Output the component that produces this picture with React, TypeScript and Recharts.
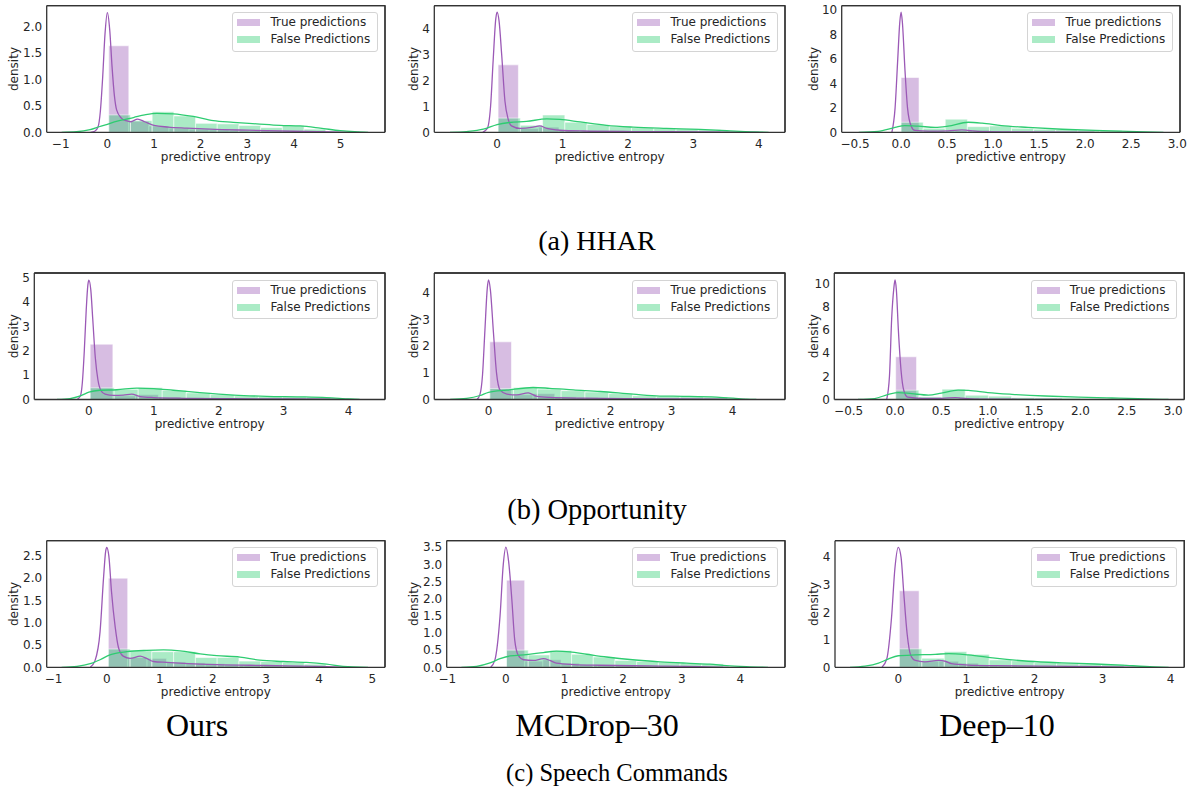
import React from 'react';
import { ComposedChart, Line, XAxis, YAxis, ReferenceArea, ReferenceLine, Label } from 'recharts';

type Pair = [number, number];
type Hist = { start: number; width: number; heights: number[] };

// ===================== DATA =====================
// (a) HHAR
const hharOursTrueKde: Pair[] = [[-0.36, 0], [-0.27, 0.02], [-0.2, 0.1], [-0.15, 0.4], [-0.1, 1.05], [-0.05, 1.87], [0, 2.27], [0.05, 1.95], [0.1, 1.25], [0.15, 0.7], [0.2, 0.42], [0.3, 0.27], [0.4, 0.22], [0.5, 0.2], [0.65, 0.25], [0.8, 0.2], [1.0, 0.13], [1.3, 0.1], [1.7, 0.08], [2.2, 0.06], [3.0, 0.04], [4.0, 0.02], [5.0, 0.005], [5.4, 0]];
const hharOursFalseKde: Pair[] = [[-0.98, 0], [-0.66, 0.01], [-0.37, 0.05], [-0.16, 0.11], [0, 0.15], [0.06, 0.17], [0.3, 0.23], [0.56, 0.28], [0.8, 0.33], [1.06, 0.36], [1.41, 0.35], [1.84, 0.3], [2.27, 0.22], [2.7, 0.19], [3.2, 0.16], [3.7, 0.13], [4.13, 0.12], [4.56, 0.08], [4.99, 0.03], [5.3, 0.01], [5.59, 0]];
const hharOursTrueHist: Hist = { start: 0.03, width: 0.43, heights: [1.64, 0.21, 0.12, 0.08, 0.06, 0.05, 0.04, 0.03, 0.03, 0.02, 0.02] };
const hharOursFalseHist: Hist = { start: 0.03, width: 0.465, heights: [0.33, 0.22, 0.39, 0.31, 0.17, 0.16, 0.13, 0.09, 0.13, 0.06] };

const hharMcTrueKde: Pair[] = [[-0.22, 0], [-0.15, 0.15], [-0.1, 1.0], [-0.06, 2.8], [-0.02, 4.4], [0, 4.65], [0.03, 4.3], [0.07, 3.0], [0.12, 1.2], [0.17, 0.5], [0.22, 0.25], [0.35, 0.15], [0.55, 0.2], [0.65, 0.25], [0.76, 0.15], [0.96, 0.08], [1.32, 0.05], [2.08, 0.03], [3.1, 0.02], [3.6, 0.01], [4.0, 0]];
const hharMcFalseKde: Pair[] = [[-0.72, 0], [-0.47, 0.03], [-0.21, 0.12], [0, 0.3], [0.19, 0.38], [0.45, 0.42], [0.76, 0.52], [0.96, 0.5], [1.27, 0.4], [1.67, 0.27], [2.08, 0.2], [2.59, 0.15], [3.1, 0.11], [3.51, 0.06], [3.87, 0.02], [4.15, 0]];
const hharMcTrueHist: Hist = { start: 0.015, width: 0.31, heights: [2.61, 0.15, 0.2, 0.08, 0.05, 0.04, 0.03, 0.03, 0.02, 0.02, 0.01] };
const hharMcFalseHist: Hist = { start: 0.015, width: 0.34, heights: [0.55, 0.27, 0.67, 0.39, 0.3, 0.22, 0.18, 0.15, 0.13, 0.1] };

const hharDeepTrueKde: Pair[] = [[-0.1, 0], [-0.065, 2], [-0.036, 6], [-0.014, 9], [0, 9.82], [0.014, 9], [0.043, 5], [0.07, 2], [0.11, 0.5], [0.15, 0.15], [0.3, 0.1], [0.51, 0.12], [0.66, 0.2], [0.73, 0.15], [0.88, 0.05], [1.2, 0.03], [1.75, 0.01], [2.1, 0]];
const hharDeepFalseKde: Pair[] = [[-0.46, 0], [-0.25, 0.08], [-0.065, 0.4], [0.04, 0.55], [0.19, 0.5], [0.37, 0.4], [0.51, 0.5], [0.73, 0.82], [0.88, 0.75], [1.09, 0.55], [1.38, 0.4], [1.75, 0.25], [2.11, 0.15], [2.47, 0.08], [2.65, 0.04], [2.85, 0]];
const hharDeepTrueHist: Hist = { start: 0.0, width: 0.195, heights: [4.48, 0.12, 0.1, 0.15, 0.18, 0.08, 0.04, 0.03, 0.02, 0.02, 0.01] };
const hharDeepFalseHist: Hist = { start: 0.0, width: 0.24, heights: [0.82, 0.33, 1.07, 0.46, 0.52, 0.33, 0.25, 0.22, 0.19, 0.16] };

// (b) Opportunity
const oppOursTrueKde: Pair[] = [[-0.18, 0], [-0.13, 0.15], [-0.1, 0.7], [-0.07, 2.0], [-0.04, 3.7], [-0.015, 4.7], [0, 4.9], [0.03, 4.5], [0.06, 3.3], [0.1, 1.7], [0.14, 0.8], [0.19, 0.35], [0.25, 0.22], [0.38, 0.17], [0.53, 0.18], [0.66, 0.22], [0.79, 0.12], [1.0, 0.08], [1.46, 0.05], [2.23, 0.03], [3.0, 0.02], [3.76, 0.01], [4.0, 0]];
const oppOursFalseKde: Pair[] = [[-0.49, 0], [-0.29, 0.04], [-0.13, 0.15], [0, 0.3], [0.17, 0.38], [0.43, 0.4], [0.74, 0.47], [1.0, 0.45], [1.3, 0.38], [1.71, 0.28], [2.23, 0.18], [2.74, 0.13], [3.25, 0.11], [3.66, 0.08], [4.02, 0.02], [4.17, 0]];
const oppOursTrueHist: Hist = { start: 0.02, width: 0.35, heights: [2.27, 0.15, 0.2, 0.1, 0.07, 0.05, 0.04, 0.03, 0.03, 0.02, 0.01] };
const oppOursFalseHist: Hist = { start: 0.02, width: 0.37, heights: [0.48, 0.42, 0.49, 0.38, 0.27, 0.2, 0.15, 0.12, 0.11, 0.1] };

const oppMcTrueKde: Pair[] = [[-0.19, 0], [-0.14, 0.2], [-0.1, 0.9], [-0.06, 2.6], [-0.02, 4.2], [0, 4.48], [0.03, 4.1], [0.08, 2.5], [0.13, 1.0], [0.19, 0.35], [0.3, 0.2], [0.46, 0.17], [0.65, 0.25], [0.79, 0.12], [1.0, 0.08], [1.55, 0.05], [2.37, 0.03], [3.19, 0.02], [4.0, 0.005], [4.2, 0]];
const oppMcFalseKde: Pair[] = [[-0.63, 0], [-0.36, 0.04], [-0.14, 0.15], [0, 0.27], [0.3, 0.35], [0.73, 0.45], [1.0, 0.42], [1.39, 0.36], [1.83, 0.3], [2.37, 0.2], [2.81, 0.13], [3.19, 0.12], [3.74, 0.09], [4.01, 0.05], [4.23, 0.01], [4.39, 0]];
const oppMcTrueHist: Hist = { start: 0.02, width: 0.355, heights: [2.16, 0.18, 0.22, 0.1, 0.07, 0.05, 0.04, 0.03, 0.02, 0.02, 0.01] };
const oppMcFalseHist: Hist = { start: 0.02, width: 0.39, heights: [0.41, 0.45, 0.39, 0.33, 0.28, 0.22, 0.14, 0.12, 0.11, 0.09] };

const oppDeepTrueKde: Pair[] = [[-0.09, 0], [-0.06, 2], [-0.036, 7], [-0.014, 9.5], [0, 10.3], [0.014, 9.5], [0.036, 6], [0.065, 2.5], [0.094, 0.8], [0.137, 0.2], [0.29, 0.1], [0.5, 0.1], [0.65, 0.17], [0.72, 0.12], [0.86, 0.04], [1.26, 0.02], [1.8, 0]];
const oppDeepFalseKde: Pair[] = [[-0.4, 0], [-0.22, 0.08], [-0.07, 0.45], [0.036, 0.6], [0.18, 0.5], [0.36, 0.38], [0.5, 0.55], [0.68, 0.8], [0.79, 0.78], [1.0, 0.6], [1.26, 0.45], [1.62, 0.3], [1.98, 0.2], [2.34, 0.13], [2.52, 0.1], [2.7, 0.05], [2.88, 0.01], [2.95, 0]];
const oppDeepTrueHist: Hist = { start: 0.007, width: 0.225, heights: [3.68, 0.1, 0.1, 0.15, 0.08, 0.04, 0.03, 0.02, 0.02, 0.01] };
const oppDeepFalseHist: Hist = { start: 0.007, width: 0.25, heights: [0.8, 0.23, 0.89, 0.37, 0.29, 0.17, 0.14, 0.12, 0.1, 0.08] };

// (c) Speech Commands
const scOursTrueKde: Pair[] = [[-0.31, 0], [-0.22, 0.15], [-0.125, 0.8], [-0.06, 2.0], [-0.02, 2.6], [0, 2.69], [0.04, 2.5], [0.09, 1.7], [0.16, 0.9], [0.22, 0.45], [0.31, 0.25], [0.44, 0.2], [0.63, 0.25], [0.75, 0.2], [0.88, 0.13], [1.13, 0.11], [1.44, 0.09], [2.07, 0.06], [3.0, 0.04], [3.95, 0.02], [4.26, 0.01], [4.58, 0]];
const scOursFalseKde: Pair[] = [[-0.85, 0], [-0.56, 0.02], [-0.31, 0.08], [-0.125, 0.17], [0.06, 0.28], [0.38, 0.35], [0.75, 0.38], [1.07, 0.39], [1.38, 0.37], [1.76, 0.3], [2.07, 0.26], [2.51, 0.23], [2.88, 0.16], [3.32, 0.13], [3.76, 0.11], [4.14, 0.07], [4.45, 0.02], [4.92, 0]];
const scOursTrueHist: Hist = { start: 0.03, width: 0.365, heights: [2.0, 0.22, 0.2, 0.12, 0.1, 0.08, 0.06, 0.05, 0.04, 0.03, 0.02, 0.01] };
const scOursFalseHist: Hist = { start: 0.03, width: 0.41, heights: [0.41, 0.37, 0.35, 0.35, 0.22, 0.22, 0.14, 0.13, 0.11, 0.07] };

const scMcTrueKde: Pair[] = [[-0.26, 0], [-0.19, 0.2], [-0.1, 1.5], [-0.045, 3.0], [0, 3.5], [0.045, 3.1], [0.1, 2.0], [0.15, 0.8], [0.21, 0.35], [0.3, 0.22], [0.47, 0.2], [0.64, 0.25], [0.75, 0.2], [0.86, 0.12], [1.15, 0.08], [1.6, 0.06], [2.45, 0.04], [3.3, 0.02], [3.6, 0.005], [3.8, 0]];
const scMcFalseKde: Pair[] = [[-0.76, 0], [-0.5, 0.03], [-0.27, 0.13], [-0.1, 0.25], [0.07, 0.33], [0.35, 0.37], [0.64, 0.43], [0.86, 0.47], [1.09, 0.45], [1.38, 0.38], [1.72, 0.3], [2.16, 0.22], [2.63, 0.16], [3.08, 0.12], [3.48, 0.09], [3.76, 0.05], [4.1, 0.02], [4.47, 0]];
const scMcTrueHist: Hist = { start: 0.01, width: 0.31, heights: [2.54, 0.18, 0.22, 0.12, 0.08, 0.06, 0.05, 0.04, 0.03, 0.02, 0.02] };
const scMcFalseHist: Hist = { start: 0.01, width: 0.37, heights: [0.5, 0.36, 0.49, 0.38, 0.3, 0.2, 0.17, 0.15, 0.12, 0.1] };

const scDeepTrueKde: Pair[] = [[-0.24, 0], [-0.17, 0.3], [-0.1, 1.8], [-0.05, 3.6], [0, 4.36], [0.04, 4.0], [0.08, 2.7], [0.13, 1.2], [0.18, 0.45], [0.25, 0.25], [0.39, 0.2], [0.59, 0.25], [0.69, 0.22], [0.78, 0.13], [1.03, 0.08], [1.42, 0.06], [2.16, 0.04], [2.89, 0.02], [3.38, 0.005], [3.6, 0]];
const scDeepFalseKde: Pair[] = [[-0.71, 0], [-0.49, 0.04], [-0.29, 0.15], [-0.15, 0.3], [0, 0.42], [0.25, 0.45], [0.54, 0.47], [0.74, 0.5], [1.03, 0.45], [1.42, 0.33], [1.91, 0.22], [2.4, 0.16], [2.89, 0.12], [3.28, 0.08], [3.63, 0.03], [3.97, 0]];
const scDeepTrueHist: Hist = { start: 0.015, width: 0.29, heights: [2.78, 0.22, 0.22, 0.15, 0.08, 0.06, 0.05, 0.04, 0.03, 0.02, 0.01] };
const scDeepFalseHist: Hist = { start: 0.015, width: 0.33, heights: [0.67, 0.33, 0.57, 0.47, 0.27, 0.24, 0.17, 0.15, 0.12, 0.1] };

// tick values
const ticksM1to5 = [-1, 0, 1, 2, 3, 4, 5];
const ticks0to4 = [0, 1, 2, 3, 4];
const ticksM1to4 = [-1, 0, 1, 2, 3, 4];
const ticksHalfM05to3 = [-0.5, 0, 0.5, 1, 1.5, 2, 2.5, 3];
const yTicks0to2 = [0, 0.5, 1, 1.5, 2];
const yTicks0to25 = [0, 0.5, 1, 1.5, 2, 2.5];
const yTicks0to35 = [0, 0.5, 1, 1.5, 2, 2.5, 3, 3.5];
const yTicks0to4 = [0, 1, 2, 3, 4];
const yTicks0to5 = [0, 1, 2, 3, 4, 5];
const yTicks0to10 = [0, 2, 4, 6, 8, 10];

const legendLabels = ['True predictions', 'False Predictions'];
const xAxisTitle = 'predictive entropy';
const yAxisTitle = 'density';
const rowCaptions = ['(a) HHAR', '(b) Opportunity', '(c) Speech Commands'];
const colCaptions = ['Ours', 'MCDrop–30', 'Deep–10'];

// ===================== STYLE / LAYOUT =====================
const PURPLE = '#9b59b6';
const GREEN = '#2ecc71';
const TEXT = '#262626';
const SPINE = '#333333';
const SPINE_W = 1.3;
const FONT = '"DejaVu Sans", Verdana, sans-serif';
const SERIF = '"Liberation Serif", "Times New Roman", serif';

const COL_X = [0, 400, 800];
const ROW_Y = [0, 268, 535];
const CW = 395;
const CH = 170;
const XAXIS_H = 30;

type PanelCfg = {
  col: number;
  row: number;
  plot: [number, number, number, number];
  xDomain: [number, number];
  yTop: number;
  xTicks: number[];
  xDec: number;
  yTicks: number[];
  yDec: number;
  trueKde: Pair[];
  falseKde: Pair[];
  trueHist: Hist;
  falseHist: Hist;
};

const panels: PanelCfg[] = [
  { col: 0, row: 0, plot: [46.7, 5.7, 385, 132.3], xDomain: [-1.3, 5.95], yTop: 2.4, xTicks: ticksM1to5, xDec: 0, yTicks: yTicks0to2, yDec: 1, trueKde: hharOursTrueKde, falseKde: hharOursFalseKde, trueHist: hharOursTrueHist, falseHist: hharOursFalseHist },
  { col: 1, row: 0, plot: [434.3, 5.7, 785, 132.3], xDomain: [-0.96, 4.4], yTop: 4.9, xTicks: ticks0to4, xDec: 0, yTicks: yTicks0to4, yDec: 0, trueKde: hharMcTrueKde, falseKde: hharMcFalseKde, trueHist: hharMcTrueHist, falseHist: hharMcFalseHist },
  { col: 2, row: 0, plot: [841.7, 5.7, 1180, 132.3], xDomain: [-0.645, 3.03], yTop: 10.35, xTicks: ticksHalfM05to3, xDec: 1, yTicks: yTicks0to10, yDec: 0, trueKde: hharDeepTrueKde, falseKde: hharDeepFalseKde, trueHist: hharDeepTrueHist, falseHist: hharDeepFalseHist },
  { col: 0, row: 1, plot: [34.3, 273, 385, 399.5], xDomain: [-0.84, 4.56], yTop: 5.19, xTicks: ticks0to4, xDec: 0, yTicks: yTicks0to5, yDec: 0, trueKde: oppOursTrueKde, falseKde: oppOursFalseKde, trueHist: oppOursTrueHist, falseHist: oppOursFalseHist },
  { col: 1, row: 1, plot: [434.3, 273, 785, 399.5], xDomain: [-0.89, 4.86], yTop: 4.74, xTicks: ticks0to4, xDec: 0, yTicks: yTicks0to4, yDec: 0, trueKde: oppMcTrueKde, falseKde: oppMcFalseKde, trueHist: oppMcTrueHist, falseHist: oppMcFalseHist },
  { col: 2, row: 1, plot: [834.3, 273, 1184.3, 399.5], xDomain: [-0.655, 3.12], yTop: 10.9, xTicks: ticksHalfM05to3, xDec: 1, yTicks: yTicks0to10, yDec: 0, trueKde: oppDeepTrueKde, falseKde: oppDeepFalseKde, trueHist: oppDeepTrueHist, falseHist: oppDeepFalseHist },
  { col: 0, row: 2, plot: [46.7, 540.7, 385, 667.3], xDomain: [-1.13, 5.24], yTop: 2.84, xTicks: ticksM1to5, xDec: 0, yTicks: yTicks0to25, yDec: 1, trueKde: scOursTrueKde, falseKde: scOursFalseKde, trueHist: scOursTrueHist, falseHist: scOursFalseHist },
  { col: 1, row: 2, plot: [446.7, 540.7, 785, 667.3], xDomain: [-1.01, 4.76], yTop: 3.69, xTicks: ticksM1to4, xDec: 0, yTicks: yTicks0to35, yDec: 1, trueKde: scMcTrueKde, falseKde: scMcFalseKde, trueHist: scMcTrueHist, falseHist: scMcFalseHist },
  { col: 2, row: 2, plot: [835, 540.7, 1184.3, 667.3], xDomain: [-0.93, 4.2], yTop: 4.6, xTicks: ticks0to4, xDec: 0, yTicks: yTicks0to4, yDec: 0, trueKde: scDeepTrueKde, falseKde: scDeepFalseKde, trueHist: scDeepTrueHist, falseHist: scDeepFalseHist },
];

const fmt = (dec: number) => (v: number) => (v < 0 ? '\u2212' : '') + Math.abs(v).toFixed(dec);
const toPts = (arr: Pair[]) => arr.map(([x, y]) => ({ x, y }));

const tickStyle = { fontSize: 12, fill: TEXT, fontFamily: FONT };
const spineStyle = { stroke: SPINE, strokeWidth: SPINE_W };

function histAreas(h: Hist, color: string, key: string) {
  return h.heights.map((v, i) => (
    <ReferenceArea
      key={key + i}
      x1={h.start + i * h.width}
      x2={h.start + (i + 1) * h.width}
      y1={0}
      y2={v}
      fill={color}
      fillOpacity={0.4}
      stroke="#ffffff"
      strokeOpacity={0.55}
      strokeWidth={1}
      ifOverflow="visible"
    />
  ));
}

function Legend2() {
  const row = (label: string, color: string) => (
    <div style={{ display: 'flex', alignItems: 'center', height: 17 }}>
      <div style={{ width: 23, height: 7, background: color, opacity: 0.4, marginLeft: 4.4 }} />
      <span style={{ marginLeft: 10, fontFamily: FONT, fontSize: 12, color: TEXT, whiteSpace: 'nowrap', lineHeight: '17px' }}>{label}</span>
    </div>
  );
  return (
    <div style={{ width: 146, height: 39.5, boxSizing: 'border-box', border: '1px solid #d4d4d4', borderRadius: 3, background: 'rgba(255,255,255,0.8)', paddingTop: 1 }}>
      {row(legendLabels[0], PURPLE)}
      {row(legendLabels[1], GREEN)}
    </div>
  );
}

function Panel({ cfg }: { cfg: PanelCfg }) {
  const cx = COL_X[cfg.col];
  const cy = ROW_Y[cfg.row];
  const [l, t, r, b] = cfg.plot;
  const yAxisW = l - cx;
  const margin = { top: t - cy, left: 0, right: cx + CW - r, bottom: CH - (b - cy) - XAXIS_H };
  const fl = l - cx;
  const ft = t - cy;
  const fr = r - cx;
  const fb = b - cy;
  return (
    <div style={{ position: 'absolute', left: cx, top: cy, width: CW, height: CH }}>
      <ComposedChart width={CW} height={CH} margin={margin}>
        <XAxis
          type="number"
          dataKey="x"
          domain={cfg.xDomain}
          allowDataOverflow
          ticks={cfg.xTicks}
          interval={0}
          tickFormatter={fmt(cfg.xDec)}
          tick={tickStyle}
          tickLine={false}
          tickSize={6}
          tickMargin={1}
          axisLine={spineStyle}
          height={XAXIS_H}
        >
          <Label
            content={(p: any) => {
              const vb = p.viewBox || {};
              return (
                <text x={vb.x + vb.width / 2} y={vb.y + 28.5} textAnchor="middle" fontSize={12} fontFamily={FONT} fill={TEXT}>
                  {xAxisTitle}
                </text>
              );
            }}
          />
        </XAxis>
        <YAxis
          type="number"
          domain={[0, cfg.yTop]}
          allowDataOverflow
          ticks={cfg.yTicks}
          interval={0}
          tickFormatter={fmt(cfg.yDec)}
          tick={tickStyle}
          tickLine={false}
          tickSize={3.5}
          tickMargin={1}
          axisLine={spineStyle}
          width={yAxisW}
        >
          <Label
            content={(p: any) => {
              const vb = p.viewBox || {};
              const x = vb.x + 13.5;
              const y = vb.y + vb.height / 2;
              return (
                <text x={x} y={y} transform={`rotate(-90, ${x}, ${y})`} textAnchor="middle" dominantBaseline="central" fontSize={12} fontFamily={FONT} fill={TEXT}>
                  {yAxisTitle}
                </text>
              );
            }}
          />
        </YAxis>
        {histAreas(cfg.trueHist, PURPLE, 't')}
        <Line data={toPts(cfg.trueKde)} dataKey="y" type="monotone" stroke={PURPLE} strokeWidth={1.3} dot={false} activeDot={false} isAnimationActive={false} />
        {histAreas(cfg.falseHist, GREEN, 'f')}
        <Line data={toPts(cfg.falseKde)} dataKey="y" type="monotone" stroke={GREEN} strokeWidth={1.3} dot={false} activeDot={false} isAnimationActive={false} />
        <ReferenceLine y={cfg.yTop} stroke={SPINE} strokeWidth={SPINE_W} ifOverflow="visible" />
        <ReferenceLine x={cfg.xDomain[1]} stroke={SPINE} strokeWidth={SPINE_W} ifOverflow="visible" />
      </ComposedChart>
      {/* top and right spines of the axes box */}
      <svg width={CW} height={CH} style={{ position: 'absolute', left: 0, top: 0, zIndex: 5, pointerEvents: 'none' }}>
        <polyline points={`${fl},${ft} ${fr},${ft} ${fr},${fb}`} fill="none" stroke={SPINE} strokeWidth={SPINE_W} />
      </svg>
      <div style={{ position: 'absolute', left: r - cx - 7 - 146, top: t - cy + 6.5, zIndex: 6 }}>
        <Legend2 />
      </div>
    </div>
  );
}

function Caption({ text, x, y, size }: { text: string; x: number; y: number; size: number }) {
  return (
    <div style={{ position: 'absolute', left: x, top: y, transform: 'translate(-50%, -50%)', fontFamily: SERIF, fontSize: size, lineHeight: 1, color: '#000', whiteSpace: 'nowrap' }}>
      {text}
    </div>
  );
}

export default function App() {
  return (
    <div style={{ position: 'absolute', left: 0, top: 0, width: 1195, height: 794, background: '#fff', overflow: 'hidden' }}>
      {panels.map((p, i) => (
        <Panel key={i} cfg={p} />
      ))}
      <Caption text={rowCaptions[0]} x={597} y={241} size={28} />
      <Caption text={rowCaptions[1]} x={597} y={510} size={28.5} />
      <Caption text={colCaptions[0]} x={197} y={725} size={32} />
      <Caption text={colCaptions[1]} x={597} y={725} size={32} />
      <Caption text={colCaptions[2]} x={997} y={725} size={32} />
      <Caption text={rowCaptions[2]} x={617} y={773} size={24.5} />
    </div>
  );
}
